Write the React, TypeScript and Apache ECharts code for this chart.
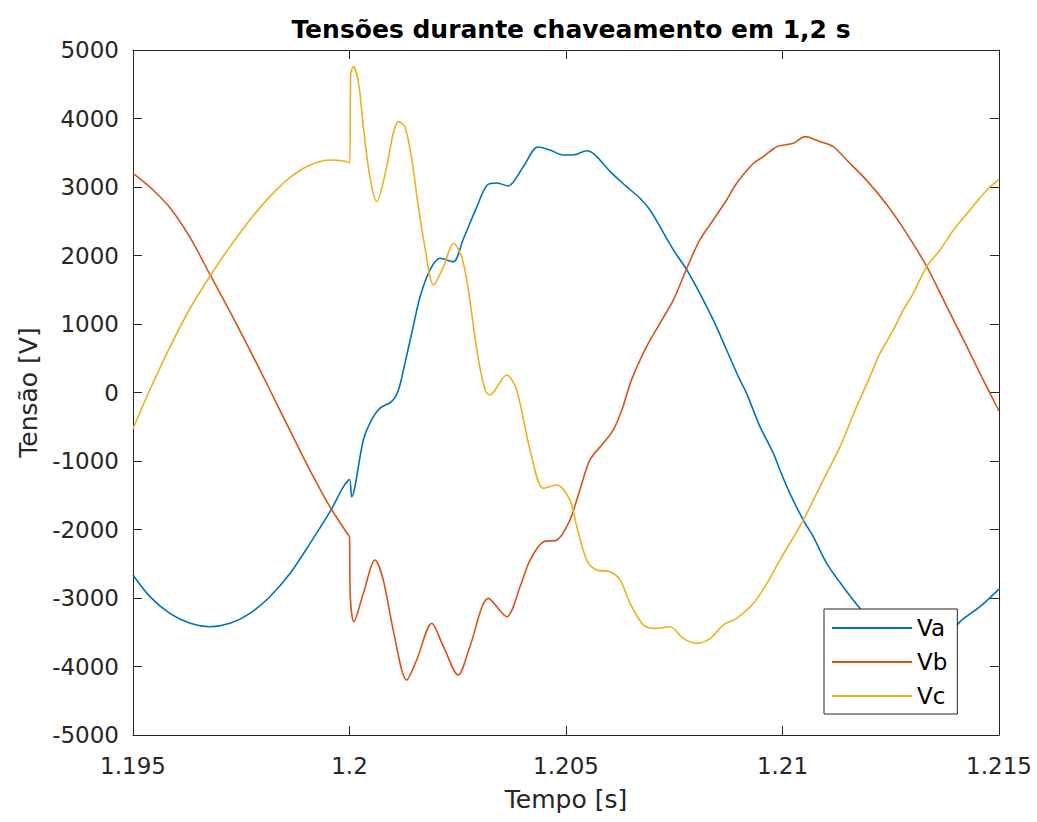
import React, { useEffect, useRef } from "react";
import * as echarts from "echarts";

const titleText = "Tensões durante chaveamento em 1,2 s";
const xName = "Tempo [s]";
const yName = "Tensão [V]";
const seriesNames = ["Va", "Vb", "Vc"];
const seriesColors = ["#0072BD", "#D95319", "#EDB120"];
const xRange = [1.195, 1.215];
const xStep = 0.005;
const yRange = [-5000, 5000];
const yStep = 1000;

const va: [number, number][] = [
  [1.195, -2665], [1.19539, -2980], [1.19585, -3224], [1.19632, -3370], [1.19678, -3419],
  [1.19724, -3370], [1.1977, -3224], [1.19816, -2981], [1.19863, -2640], [1.19909, -2202],
  [1.19955, -1740], [1.19986, -1375], [1.2, -1270], [1.20005, -1521], [1.20032, -693],
  [1.20051, -401], [1.2007, -231], [1.20097, -134], [1.20113, 37], [1.20128, 426],
  [1.20147, 961], [1.20163, 1399], [1.20186, 1789], [1.20209, 1959], [1.2024, 1910],
  [1.20262, 2227], [1.20294, 2709], [1.20318, 3030], [1.20341, 3059], [1.20366, 3015],
  [1.20401, 3292], [1.20435, 3584], [1.20463, 3541], [1.20493, 3468], [1.20517, 3468],
  [1.20548, 3530], [1.20567, 3468], [1.20602, 3224], [1.2064, 3005], [1.20671, 2835],
  [1.20694, 2665], [1.20717, 2421], [1.20748, 2081], [1.20779, 1789], [1.20809, 1448],
  [1.2084, 1059], [1.20871, 620], [1.20898, 231], [1.20917, -12], [1.20948, -499],
  [1.20979, -888], [1.20994, -1131], [1.21017, -1472], [1.21048, -1862], [1.21071, -2105],
  [1.21102, -2494], [1.2114, -2835], [1.21179, -3151], [1.21225, -3468], [1.2126, -3614],
  [1.21306, -3687], [1.21352, -3614], [1.21398, -3424], [1.21414, -3322], [1.21456, -3127],
  [1.215, -2870],
];

const vb: [number, number][] = [
  [1.195, 3200], [1.19539, 3000], [1.19585, 2700], [1.19632, 2260], [1.19678, 1720],
  [1.19724, 1180], [1.1977, 620], [1.19816, 40], [1.19863, -560], [1.19909, -1140],
  [1.19955, -1670], [1.19998, -2090], [1.2, -2110], [1.20002, -3000], [1.2001, -3346],
  [1.20032, -2932], [1.20059, -2446], [1.20078, -2738], [1.20101, -3468], [1.20132, -4198],
  [1.20155, -3906], [1.2019, -3370], [1.20217, -3711], [1.20251, -4125], [1.20278, -3711],
  [1.20321, -3005], [1.20363, -3273], [1.20394, -2835], [1.20417, -2446], [1.20448, -2178],
  [1.20479, -2154], [1.20509, -1862], [1.20532, -1424], [1.20555, -986], [1.20586, -742],
  [1.20609, -548], [1.20629, -256], [1.20652, 195], [1.20686, 669], [1.20717, 1010],
  [1.20748, 1351], [1.20779, 1813], [1.20809, 2227], [1.2084, 2519], [1.20871, 2811],
  [1.20894, 3054], [1.20933, 3346], [1.20956, 3443], [1.20987, 3589], [1.21025, 3638],
  [1.21052, 3735], [1.21087, 3662], [1.21117, 3589], [1.21148, 3395], [1.21194, 3100],
  [1.21241, 2740], [1.21287, 2320], [1.21333, 1840], [1.21379, 1260], [1.21425, 680],
  [1.21456, 280], [1.215, -270],
];

const vc: [number, number][] = [
  [1.195, -530], [1.19539, 40], [1.19585, 660], [1.19632, 1230], [1.19678, 1700],
  [1.19724, 2130], [1.1977, 2520], [1.19816, 2860], [1.19863, 3140], [1.19909, 3320],
  [1.19955, 3395], [1.1999, 3375], [1.2, 3350], [1.20003, 4660], [1.20009, 4757],
  [1.20021, 4514], [1.20032, 3880], [1.20047, 3150], [1.20063, 2786], [1.20086, 3297],
  [1.20101, 3784], [1.20113, 3954], [1.20128, 3880], [1.20144, 3395], [1.20159, 2713],
  [1.20174, 2129], [1.20194, 1570], [1.20217, 1837], [1.2024, 2178], [1.20259, 1983],
  [1.20274, 1521], [1.20294, 621], [1.20313, 37], [1.20324, -37], [1.20363, 256],
  [1.20386, 37], [1.20417, -840], [1.20448, -1399], [1.20479, -1350], [1.20509, -1570],
  [1.20525, -1959], [1.20548, -2446], [1.20571, -2592], [1.20602, -2616], [1.20625, -2738],
  [1.20648, -3078], [1.20679, -3395], [1.20709, -3443], [1.2074, -3419], [1.20771, -3589],
  [1.20802, -3662], [1.20833, -3589], [1.20863, -3395], [1.20894, -3297], [1.20933, -3078],
  [1.20964, -2786], [1.20994, -2446], [1.21048, -1862], [1.21094, -1278], [1.21133, -791],
  [1.21171, -207], [1.21202, 231], [1.21225, 572], [1.21256, 913], [1.21279, 1205],
  [1.21302, 1448], [1.21333, 1837], [1.21364, 2081], [1.21395, 2373], [1.21433, 2665],
  [1.21472, 2957], [1.215, 3110],
];

const seriesData = [va, vb, vc];

const FONT = "'DejaVu Sans', 'Liberation Sans', Arial, sans-serif";
const AXIS_COLOR = "#262626";

export default function App() {
  const ref = useRef<HTMLDivElement>(null);

  useEffect(() => {
    if (!ref.current) return;
    const chart = echarts.init(ref.current, undefined, { renderer: "svg" });
    const fmtX = (v: number) => String(Number(v.toFixed(3)));
    const fmtY = (v: number) => String(Math.round(v));
    const commonX = {
      type: "value" as const,
      min: xRange[0],
      max: xRange[1],
      interval: xStep,
      splitLine: { show: false },
    };
    const commonY = {
      type: "value" as const,
      min: yRange[0],
      max: yRange[1],
      interval: yStep,
      splitLine: { show: false },
    };
    chart.setOption({
      animation: false,
      backgroundColor: "#ffffff",
      title: {
        text: titleText,
        left: 566,
        top: 12,
        textAlign: "center",
        textStyle: { fontFamily: FONT, fontSize: 25, fontWeight: "bold", color: "#000000" },
      },
      grid: { left: 133, right: 38, top: 50, bottom: 87, containLabel: false },
      legend: {
        data: seriesNames.map((name) => ({ name, icon: "rect" })),
        orient: "vertical",
        left: 824,
        top: 609,
        padding: [7, 10, 6, 8],
        itemGap: 10,
        itemWidth: 80,
        itemHeight: 2,
        backgroundColor: "#ffffff",
        borderColor: AXIS_COLOR,
        borderWidth: 1,
        borderRadius: 0,
        textStyle: { fontFamily: FONT, fontSize: 23, lineHeight: 24, color: "#000000" },
      },
      xAxis: [
        {
          ...commonX,
          position: "bottom",
          name: xName,
          nameLocation: "middle",
          nameGap: 52,
          nameTextStyle: { fontFamily: FONT, fontSize: 25, color: AXIS_COLOR },
          axisLine: { onZero: false, lineStyle: { color: AXIS_COLOR, width: 1 } },
          axisTick: { inside: true, length: 9, lineStyle: { color: AXIS_COLOR } },
          axisLabel: { margin: 19, fontFamily: FONT, fontSize: 23, color: AXIS_COLOR, formatter: fmtX },
        },
        {
          ...commonX,
          position: "top",
          axisLine: { onZero: false, lineStyle: { color: AXIS_COLOR, width: 1 } },
          axisTick: { inside: true, length: 9, lineStyle: { color: AXIS_COLOR } },
          axisLabel: { show: false },
        },
      ],
      yAxis: [
        {
          ...commonY,
          position: "left",
          name: yName,
          nameLocation: "middle",
          nameGap: 88,
          nameTextStyle: { fontFamily: FONT, fontSize: 25, color: AXIS_COLOR },
          axisLine: { onZero: false, lineStyle: { color: AXIS_COLOR, width: 1 } },
          axisTick: { inside: true, length: 9, lineStyle: { color: AXIS_COLOR } },
          axisLabel: { margin: 14, fontFamily: FONT, fontSize: 23, color: AXIS_COLOR, formatter: fmtY },
        },
        {
          ...commonY,
          position: "right",
          axisLine: { onZero: false, lineStyle: { color: AXIS_COLOR, width: 1 } },
          axisTick: { inside: true, length: 9, lineStyle: { color: AXIS_COLOR } },
          axisLabel: { show: false },
        },
      ],
      series: seriesNames.map((name, i) => ({
        name,
        type: "line",
        xAxisIndex: 0,
        yAxisIndex: 0,
        data: seriesData[i],
        showSymbol: false,
        symbol: "none",
        smooth: 0.3,
        color: seriesColors[i],
        itemStyle: { color: seriesColors[i] },
        lineStyle: { color: seriesColors[i], width: 1.6 },
        z: 2 + i,
      })),
    });
    return () => chart.dispose();
  }, []);

  return (
    <div
      ref={ref}
      style={{ position: "fixed", left: 0, top: 0, width: 1037, height: 822, background: "#fff" }}
    />
  );
}
